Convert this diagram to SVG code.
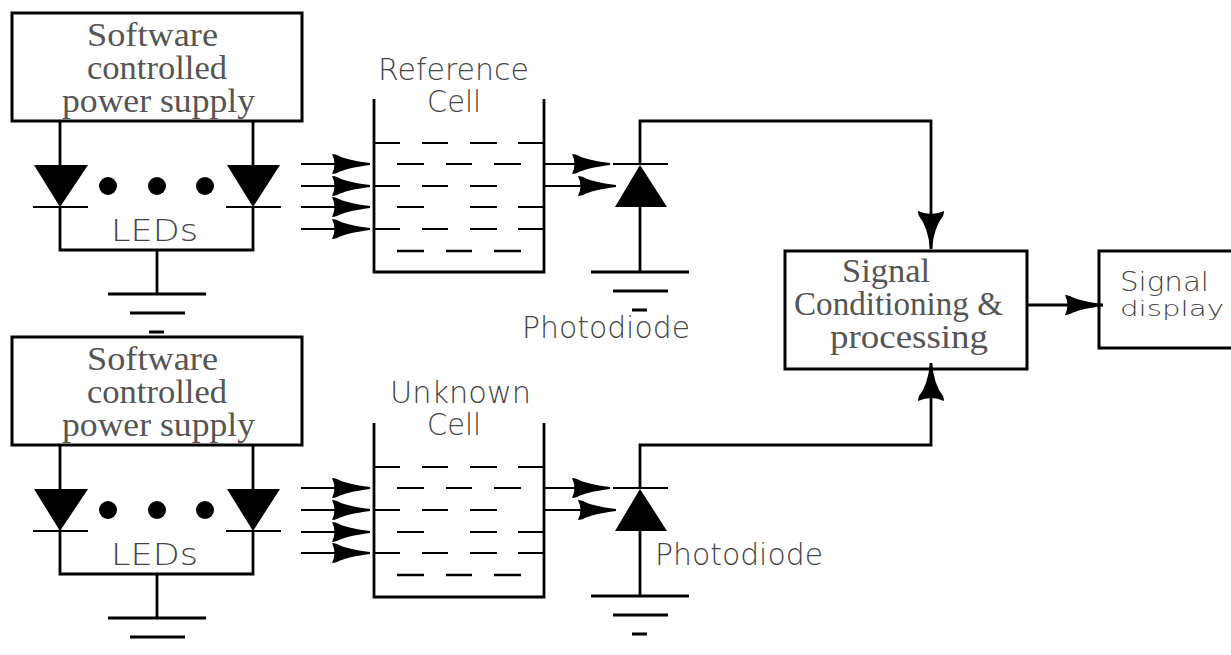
<svg xmlns="http://www.w3.org/2000/svg" width="1231" height="655" viewBox="0 0 1231 655">
<style>
.box{fill:#fff;stroke:#000;stroke-width:3}
.w{fill:none;stroke:#000;stroke-width:2.8}
.n{fill:none;stroke:#000;stroke-width:2}
.m{fill:none;stroke:#000;stroke-width:2.4}
.f{fill:#000;stroke:none}
text{fill:#444;stroke:none}
.s{font-family:"Liberation Serif",serif;font-size:33px;fill:#555}
.a{font-family:"DejaVu Sans","Liberation Sans",sans-serif;font-weight:200;font-size:30px}
</style>
<defs>
<marker id="h" markerUnits="userSpaceOnUse" viewBox="0 0 38 20" markerWidth="38" markerHeight="20" refX="38" refY="10" orient="auto" overflow="visible"><path class="f" d="M0 0Q2 0 5 1Q14 6 38 9V11Q14 14 5 19Q2 20 0 20Q5 10 0 0Z"/></marker>
<marker id="hb" markerUnits="userSpaceOnUse" viewBox="0 0 38 26" markerWidth="38" markerHeight="26" refX="38" refY="13" orient="auto" overflow="visible"><path class="f" d="M0 0Q3 0 5 1Q16 10 38 12V14Q16 16 5 25Q3 26 0 26Q6 13 0 0Z"/></marker>
</defs>
<g id="power-supply-1"><rect class="box" x="12" y="13" width="290" height="108"/>
<text class="s" x="87" y="46" textLength="131" lengthAdjust="spacingAndGlyphs">Software</text>
<text class="s" x="87" y="79" textLength="140" lengthAdjust="spacingAndGlyphs">controlled</text>
<text class="s" x="62" y="112" textLength="193" lengthAdjust="spacingAndGlyphs">power supply</text></g>
<g id="leds-1">
<path class="f" d="M34 165H88L60 207ZM227 165H280L253 207Z"/>
<path class="n" d="M33 207H88M226 207H281"/>
<circle class="f" cx="108" cy="186" r="9"/><circle class="f" cx="157" cy="186" r="9"/><circle class="f" cx="205" cy="186" r="9"/>
<text class="a" x="111" y="241" textLength="87" lengthAdjust="spacingAndGlyphs">LEDs</text></g>
<g id="ground-1"><path class="w" d="M108 294H206M130 313H185M149 332H164"/></g>
<g id="reference-cell">
<path class="w" d="M374 99V272H544V99"/>
<path class="n" d="M375 143H400M422 143H448M470 143H497M518 143H543M397 164H424M446 164H472M494 164H521M375 186H400M422 186H448M470 186H497M397 207H424M470 207H497M518 207H543M375 229H400M422 229H448M470 229H497M518 229H543"/>
<path class="m" d="M397 251H424M446 251H472M494 251H521"/>
<text class="a" x="378" y="80" textLength="151" lengthAdjust="spacingAndGlyphs">Reference</text>
<text class="a" x="427" y="112" textLength="54" lengthAdjust="spacingAndGlyphs">Cell</text></g>
<g id="photodiode-1">
<path class="n" d="M613 164H668"/>
<path class="f" d="M640 165L667 207H615Z"/>
<path class="w" d="M591 272H689M613 291H668M632 310H647"/>
<text class="a" x="522" y="338" textLength="168" lengthAdjust="spacingAndGlyphs">Photodiode</text></g>
<g id="signal-conditioning"><rect class="box" x="785" y="251" width="242" height="118"/>
<text class="s" x="842" y="282" textLength="88" lengthAdjust="spacingAndGlyphs">Signal</text>
<text class="s" x="794" y="315" textLength="209" lengthAdjust="spacingAndGlyphs">Conditioning &amp;</text>
<text class="s" x="830" y="348" textLength="158" lengthAdjust="spacingAndGlyphs">processing</text></g>
<g id="signal-display"><rect class="box" x="1099" y="251" width="134" height="97"/>
<text class="a" x="1120" y="291" style="font-size:27px" textLength="89" lengthAdjust="spacingAndGlyphs">Signal</text>
<text class="a" x="1120" y="316" style="font-size:22px" textLength="104" lengthAdjust="spacingAndGlyphs">display</text></g>
<g id="power-supply-2"><rect class="box" x="12" y="337" width="290" height="108"/>
<text class="s" x="87" y="370" textLength="131" lengthAdjust="spacingAndGlyphs">Software</text>
<text class="s" x="87" y="403" textLength="140" lengthAdjust="spacingAndGlyphs">controlled</text>
<text class="s" x="62" y="436" textLength="193" lengthAdjust="spacingAndGlyphs">power supply</text></g>
<g id="leds-2">
<path class="f" d="M34 489H88L60 531ZM227 489H280L253 531Z"/>
<path class="n" d="M33 531H88M226 531H281"/>
<circle class="f" cx="108" cy="510" r="9"/><circle class="f" cx="157" cy="510" r="9"/><circle class="f" cx="205" cy="510" r="9"/>
<text class="a" x="111" y="565" textLength="87" lengthAdjust="spacingAndGlyphs">LEDs</text></g>
<g id="ground-2"><path class="w" d="M108 618H206M130 637H185"/></g>
<g id="unknown-cell">
<path class="w" d="M374 423V597H544V423"/>
<path class="n" d="M375 467H400M422 467H448M470 467H497M518 467H543M397 488H424M446 488H472M494 488H521M375 510H400M422 510H448M470 510H497M397 532H424M470 532H497M518 532H543M375 553H400M422 553H448M470 553H497M518 553H543"/>
<path class="m" d="M397 575H424M446 575H472M494 575H521"/>
<text class="a" x="390" y="403" textLength="141" lengthAdjust="spacingAndGlyphs">Unknown</text>
<text class="a" x="427" y="435" textLength="54" lengthAdjust="spacingAndGlyphs">Cell</text></g>
<g id="photodiode-2">
<path class="n" d="M613 488H668"/>
<path class="f" d="M640 489L667 531H615Z"/>
<path class="w" d="M591 596H689M613 615H668M632 634H647"/>
<text class="a" x="655" y="565" textLength="168" lengthAdjust="spacingAndGlyphs">Photodiode</text></g>
<g id="connectors">
<path class="w" d="M60 121V165M253 121V165M60 207V250H253V207M157 250V294"/>
<path class="n" d="M301 164H370" marker-end="url(#h)"/><path class="n" d="M301 186H370" marker-end="url(#h)"/><path class="n" d="M301 207H370" marker-end="url(#h)"/><path class="n" d="M301 229H370" marker-end="url(#h)"/>
<path class="n" d="M545 164H610" marker-end="url(#h)"/><path class="n" d="M545 186H616" marker-end="url(#h)"/>
<path class="w" d="M640 164V121H931V249" marker-end="url(#hb)"/>
<path class="w" d="M640 207V272"/>
<path class="w" d="M60 445V489M253 445V489M60 531V574H253V531M157 574V618"/>
<path class="n" d="M301 488H370" marker-end="url(#h)"/><path class="n" d="M301 510H370" marker-end="url(#h)"/><path class="n" d="M301 532H370" marker-end="url(#h)"/><path class="n" d="M301 553H370" marker-end="url(#h)"/>
<path class="n" d="M545 488H610" marker-end="url(#h)"/><path class="n" d="M545 510H616" marker-end="url(#h)"/>
<path class="w" d="M640 488V445H931V363" marker-end="url(#hb)"/>
<path class="w" d="M640 531V596"/>
<path class="w" d="M1028 305H1103" marker-end="url(#h)"/>
</g>
</svg>
